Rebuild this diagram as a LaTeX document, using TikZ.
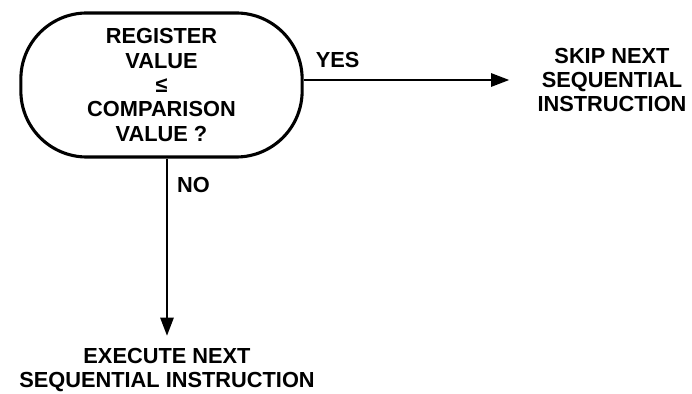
\documentclass[tikz,border=0pt]{standalone}
\usepackage{fontspec}
\setmainfont{Liberation Sans}
\usetikzlibrary{arrows.meta,positioning}

\begin{document}
\begin{tikzpicture}[x=0.025cm, y=-0.025cm,
  every node/.style={font=\fontsize{15.5}{17.4}\selectfont\bfseries, align=center, inner sep=0pt},
  decision/.style={draw, line width=2.2pt, rounded corners=1.65cm, minimum width=7.03cm, minimum height=3.6cm},
  flow/.style={line width=1.4pt, -{Triangle[length=0.45cm, width=0.33cm]}}]
  \useasboundingbox (0,0) rectangle (692,394);

  % Decision
  \node[decision] (test) at (161.5,85) {REGISTER\\VALUE\\≤\\COMPARISON\\VALUE ?};

  % Outcomes
  \node (skip) at (612,80) {SKIP NEXT\\SEQUENTIAL\\INSTRUCTION};
  \node (exec) at (167,370) {EXECUTE NEXT\\SEQUENTIAL INSTRUCTION};

  % Branches
  \draw[flow] (test.east |- skip) -- node[at start, anchor=base west, xshift=0.28cm, yshift=0.3cm] (yes) {YES} ([xshift=-0.7cm]skip.west);
  \draw[flow] (exec.north |- test.south) -- node[at start, anchor=north west, xshift=0.23cm, yshift=-0.45cm] (no) {NO} ([yshift=0.3cm]exec.north);
\end{tikzpicture}
\end{document}
